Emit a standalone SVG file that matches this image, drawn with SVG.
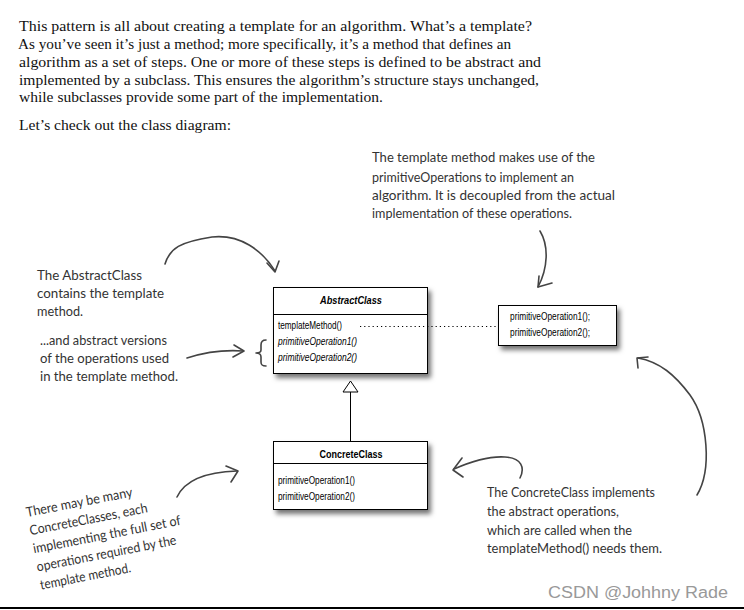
<svg xmlns="http://www.w3.org/2000/svg" width="744" height="610" viewBox="0 0 744 610">
<style>
.body{font-family:"Liberation Serif","Times New Roman",serif;font-size:15.5px;fill:#111}
.hand{font-family:"Lato","Open Sans",sans-serif;font-size:13.5px;fill:#333}
.uml{font-family:"Liberation Sans",Arial,sans-serif;font-size:10px;fill:#000}
.ttl{font-family:"Liberation Sans",Arial,sans-serif;font-size:10.5px;font-weight:bold;fill:#000}
.box{fill:#fff;stroke:#000;stroke-width:1}
.pen{fill:none;stroke:#444;stroke-width:1.6;stroke-linecap:round;stroke-linejoin:round}
</style>
<defs>
<filter id="sh" x="-10%" y="-10%" width="130%" height="140%">
<feDropShadow dx="3" dy="4" stdDeviation="2.5" flood-color="#000" flood-opacity="0.55"/>
</filter>
</defs>
<rect width="744" height="610" fill="#fff"/>
<g id="intro">
<text class="body" x="19" y="31" textLength="513" lengthAdjust="spacingAndGlyphs">This pattern is all about creating a template for an algorithm.  What’s a template?</text>
<text class="body" x="18" y="49" textLength="493" lengthAdjust="spacingAndGlyphs">As you’ve seen it’s just a method; more specifically, it’s a method that defines an</text>
<text class="body" x="19" y="67" textLength="522" lengthAdjust="spacingAndGlyphs">algorithm as a set of steps.  One or more of these steps is defined to be abstract and</text>
<text class="body" x="19" y="85" textLength="520" lengthAdjust="spacingAndGlyphs">implemented by a subclass. This ensures the algorithm’s structure stays unchanged,</text>
<text class="body" x="19" y="102" textLength="364" lengthAdjust="spacingAndGlyphs">while subclasses provide some part of the implementation.</text>
<text class="body" x="19" y="130" textLength="212" lengthAdjust="spacingAndGlyphs">Let’s check out the class diagram:</text>
</g>
<g id="note-template">
<text class="hand" x="372" y="162" textLength="223" lengthAdjust="spacingAndGlyphs">The template method makes use of the</text>
<text class="hand" x="372" y="182" textLength="202" lengthAdjust="spacingAndGlyphs">primitiveOperations to implement an</text>
<text class="hand" x="372" y="200" textLength="243" lengthAdjust="spacingAndGlyphs">algorithm.  It is decoupled from the actual</text>
<text class="hand" x="372" y="218" textLength="200" lengthAdjust="spacingAndGlyphs">implementation of these operations.</text>
</g>
<g id="note-abstract">
<text class="hand" x="37" y="280" textLength="105" lengthAdjust="spacingAndGlyphs">The AbstractClass</text>
<text class="hand" x="37" y="298" textLength="127" lengthAdjust="spacingAndGlyphs">contains the template</text>
<text class="hand" x="37" y="316" textLength="46" lengthAdjust="spacingAndGlyphs">method.</text>
<text class="hand" x="40" y="345" textLength="127" lengthAdjust="spacingAndGlyphs">...and abstract versions</text>
<text class="hand" x="40" y="363" textLength="129" lengthAdjust="spacingAndGlyphs">of the operations used</text>
<text class="hand" x="40" y="381" textLength="138" lengthAdjust="spacingAndGlyphs">in the template method.</text>
</g>
<g id="note-concrete-many" transform="translate(27,517) rotate(-11)">
<text class="hand" x="0" y="0" textLength="108" lengthAdjust="spacingAndGlyphs">There may be many</text>
<text class="hand" x="0" y="18.5" textLength="120" lengthAdjust="spacingAndGlyphs">ConcreteClasses, each</text>
<text class="hand" x="0" y="37" textLength="150" lengthAdjust="spacingAndGlyphs">implementing the full set of</text>
<text class="hand" x="0" y="55.5" textLength="142" lengthAdjust="spacingAndGlyphs">operations required by the</text>
<text class="hand" x="0" y="74" textLength="92" lengthAdjust="spacingAndGlyphs">template method.</text>
</g>
<g id="note-concrete-impl">
<text class="hand" x="487" y="497" textLength="168" lengthAdjust="spacingAndGlyphs">The ConcreteClass implements</text>
<text class="hand" x="487" y="516" textLength="132" lengthAdjust="spacingAndGlyphs">the abstract operations,</text>
<text class="hand" x="487" y="535" textLength="145" lengthAdjust="spacingAndGlyphs">which are called when the</text>
<text class="hand" x="487" y="553" textLength="175" lengthAdjust="spacingAndGlyphs">templateMethod() needs them.</text>
</g>
<g id="AbstractClass">
<rect class="box" x="273.5" y="287.5" width="154" height="86" filter="url(#sh)"/>
<line x1="273.5" y1="314.5" x2="427.5" y2="314.5" stroke="#000"/>
<text class="ttl" x="351" y="304" text-anchor="middle" font-style="italic" textLength="62" lengthAdjust="spacingAndGlyphs">AbstractClass</text>
<text class="uml" x="278" y="329" textLength="64" lengthAdjust="spacingAndGlyphs">templateMethod()</text>
<text class="uml" x="278" y="345" font-style="italic" textLength="79" lengthAdjust="spacingAndGlyphs">primitiveOperation1()</text>
<text class="uml" x="278" y="361" font-style="italic" textLength="79" lengthAdjust="spacingAndGlyphs">primitiveOperation2()</text>
</g>
<g id="TemplateBody">
<rect class="box" x="498.5" y="305.5" width="118" height="40" filter="url(#sh)"/>
<text class="uml" x="510" y="320" textLength="80" lengthAdjust="spacingAndGlyphs">primitiveOperation1();</text>
<text class="uml" x="510" y="336" textLength="80" lengthAdjust="spacingAndGlyphs">primitiveOperation2();</text>
</g>
<g id="ConcreteClass">
<rect class="box" x="273.5" y="441.5" width="154" height="68" filter="url(#sh)"/>
<line x1="273.5" y1="463.5" x2="427.5" y2="463.5" stroke="#000"/>
<text class="ttl" x="351" y="458" text-anchor="middle" textLength="63" lengthAdjust="spacingAndGlyphs">ConcreteClass</text>
<text class="uml" x="278" y="484" textLength="77" lengthAdjust="spacingAndGlyphs">primitiveOperation1()</text>
<text class="uml" x="278" y="500" textLength="77" lengthAdjust="spacingAndGlyphs">primitiveOperation2()</text>
</g>
<g id="connectors">
<line x1="360" y1="326.5" x2="496" y2="326.5" stroke="#000" stroke-width="1" stroke-dasharray="1.2 3"/>
<line x1="350.5" y1="392" x2="350.5" y2="441" stroke="#000" stroke-width="1"/>
<polygon points="350.5,381 343,392 358,392" fill="#fff" stroke="#000" stroke-width="1"/>
<path class="pen" d="M165,264 C170,248 180,242 212,237 C240,234 262,250 275,271"/>
<path class="pen" d="M267,263 L275,272 L279,261"/>
<path class="pen" d="M540,231 C549,246 548,268 538,287"/>
<path class="pen" d="M539,276 L538,287 L552,283"/>
<path class="pen" d="M187,358 Q215,349 243,351"/>
<path class="pen" d="M234,345 L244,351 L233,357"/>
<path class="pen" d="M266,340 C262,340 261,342 261,345 L261,350 C261,352 259,353 256,353 C259,353 261,354 261,357 L261,362 C261,365 262,366 266,366"/>
<path class="pen" d="M177,497 C185,480 205,472 237,471"/>
<path class="pen" d="M226,466 L238,471 L231,482"/>
<path class="pen" d="M520,478 C525,468 522,458 505,457 C490,456 470,462 454,469"/>
<path class="pen" d="M462,458 L453,470 L463,477"/>
<path class="pen" d="M697,495 C712,470 708,420 690,395 C675,375 660,362 638,358"/>
<path class="pen" d="M638,368 L637,358 L648,357"/>
</g>
<text x="548" y="598" font-family="Liberation Sans,Arial,sans-serif" font-size="16" fill="#999" textLength="180" lengthAdjust="spacingAndGlyphs">CSDN @Johhny Rade</text>
<line x1="0" y1="608" x2="744" y2="608" stroke="#000" stroke-width="2"/>
</svg>
